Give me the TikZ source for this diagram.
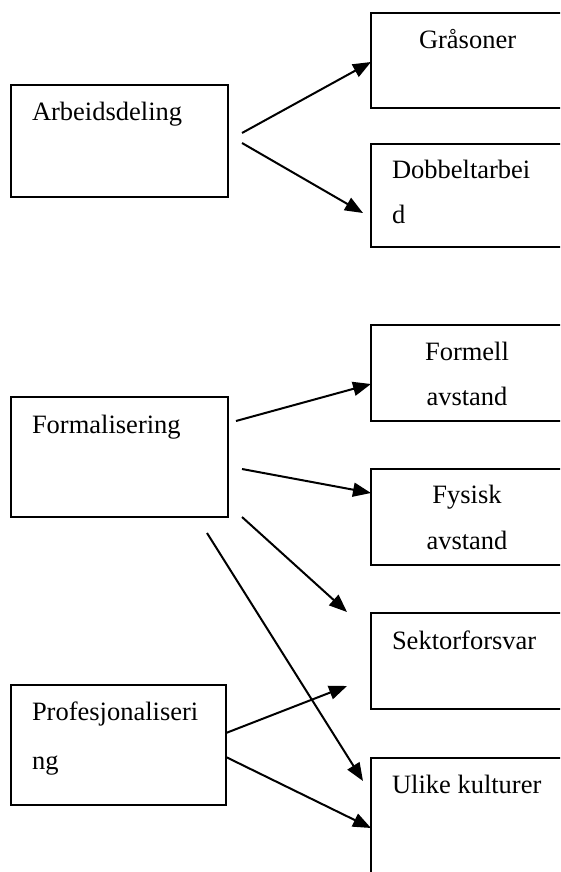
\documentclass[tikz,border=0pt]{standalone}
\usepackage{fontspec}
\setmainfont{Liberation Serif}
\usetikzlibrary{arrows.meta}
\begin{document}
\begin{tikzpicture}[x=1pt,y=-1pt,
  box/.style={draw,line width=1.3pt,rectangle,inner sep=0pt,outer sep=0pt,anchor=north west},
  lbl/.style={inner sep=0pt,outer sep=0pt,font=\fontsize{26.5}{45.5}\selectfont},
  arr/.style={line width=2pt,-{Triangle[length=18pt,width=14pt]}}]
\useasboundingbox (0,0) rectangle (560,872);
\clip (0,0) rectangle (560,872);
\fill[white] (0,0) rectangle (560,872);
% left boxes
\node[box,minimum width=217pt,minimum height=112pt] (arb) at (11,85) {};
\node[box,minimum width=217pt,minimum height=120pt] (form) at (11,397) {};
\node[box,minimum width=215pt,minimum height=120pt] (prof) at (11,685) {};
% right boxes
\node[box,minimum width=240pt,minimum height=95pt] (gras) at (371,13) {};
\node[box,minimum width=240pt,minimum height=103pt] (dobb) at (371,144) {};
\node[box,minimum width=240pt,minimum height=96pt] (formell) at (371,325) {};
\node[box,minimum width=240pt,minimum height=96pt] (fysisk) at (371,469) {};
\node[box,minimum width=240pt,minimum height=96pt] (sektor) at (371,613) {};
\node[box,minimum width=240pt,minimum height=150pt] (ulike) at (371,758) {};
% texts
\node[lbl,anchor=base west] (arbt) at ([shift={(21,36)}]arb.north west) {Arbeidsdeling};
\node[lbl,anchor=base west] (formt) at ([shift={(21,36)}]form.north west) {Formalisering};
\node[lbl,anchor=base west] (proft1) at ([shift={(21,35)}]prof.north west) {Profesjonaliseri};
\node[lbl,anchor=base west] (proft2) at ([shift={(21,84)}]prof.north west) {ng};
\node[lbl,anchor=base west] (grast) at ([shift={(48,36)}]gras.north west) {Gråsoner};
\node[lbl,anchor=base west] (dobbt1) at ([shift={(21,34)}]dobb.north west) {Dobbeltarbei};
\node[lbl,anchor=base west] (dobbt2) at ([shift={(21,79)}]dobb.north west) {d};
\node[lbl,anchor=base] (formellt1) at ([shift={(96,35)}]formell.north west) {Formell};
\node[lbl,anchor=base] (formellt2) at ([shift={(96,80)}]formell.north west) {avstand};
\node[lbl,anchor=base] (fysiskt1) at ([shift={(96,34)}]fysisk.north west) {Fysisk};
\node[lbl,anchor=base] (fysiskt2) at ([shift={(96,80)}]fysisk.north west) {avstand};
\node[lbl,anchor=base west] (sektort) at ([shift={(21,36)}]sektor.north west) {Sektorforsvar};
\node[lbl,anchor=base west] (uliket) at ([shift={(21,35)}]ulike.north west) {Ulike kulturer};
% arrows
\draw[arr] ([shift={(14,-8)}]arb.east) -- ([shift={(0,1.5)}]gras.west);
\draw[arr] ([shift={(14,2)}]arb.east) -- ([shift={(-8,17.5)}]dobb.west);
\draw[arr] ([shift={(8,-36)}]form.east) -- ([shift={(0,11)}]formell.west);
\draw[arr] ([shift={(14,12)}]form.east) -- ([shift={(0,-24)}]fysisk.west);
\draw[arr] ([shift={(14,60)}]form.east) -- ([shift={(-24,-49)}]sektor.west);
\draw[arr] ([shift={(-21,76)}]form.east) -- ([shift={(-8,23)}]ulike.north west);
\draw[arr] ([shift={(0,-12)}]prof.east) -- ([shift={(-24,25)}]sektor.west);
\draw[arr] ([shift={(0,12)}]prof.east) -- ([shift={(0,70)}]ulike.north west);
\end{tikzpicture}
\end{document}
